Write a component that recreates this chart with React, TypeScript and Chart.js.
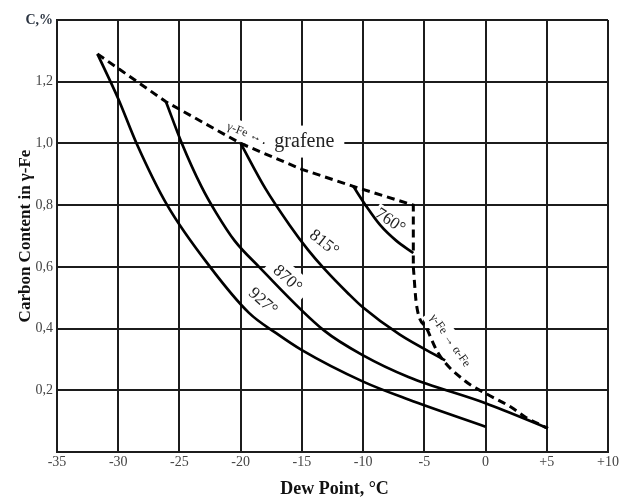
import React, { useEffect, useRef } from "react";
import { Chart, registerables } from "chart.js";

Chart.register(...registerables);

// ---- axis ticks ----
const xTickValues = [-35, -30, -25, -20, -15, -10, -5, 0, 5, 10];
const xTickLabels = ["-35", "-30", "-25", "-20", "-15", "-10", "-5", "0", "+5", "+10"];
const yTickValues = [0, 0.2, 0.4, 0.6, 0.8, 1.0, 1.2, 1.4];
const yTickLabels = ["", "0,2", "0,4", "0,6", "0,8", "1,0", "1,2", "C,%"];

// ---- series (dew point °C, carbon %) ----
const c927X = [-31.7, -30.0, -28.5, -26.0, -22.5, -19.3, -17.1, -15.0, -10.0, -6.3, 0.0];
const c927Y = [1.29, 1.145, 1.0, 0.8, 0.6, 0.45, 0.385, 0.33, 0.228, 0.17, 0.082];

const c870X = [-26.1, -24.8, -23.2, -22.0, -20.5, -18.5, -13.2, -10.0, -6.3, 0.0, 5.1];
const c870Y = [1.135, 1.0, 0.86, 0.775, 0.685, 0.6, 0.394, 0.313, 0.243, 0.158, 0.077];

const c815X = [-20.0, -18.0, -16.0, -14.5, -13.2, -11.2, -10.0, -7.0, -3.3];
const c815Y = [1.0, 0.855, 0.735, 0.655, 0.595, 0.513, 0.468, 0.38, 0.297];

const c760X = [-10.8, -9.8, -8.6, -7.3, -5.9];
const c760Y = [0.861, 0.8, 0.735, 0.685, 0.645];

const graphiteX = [-31.7, -26.1, -20.0, -15.0, -10.8, -5.9, -5.9];
const graphiteY = [1.29, 1.135, 1.0, 0.916, 0.861, 0.8, 0.6];

const alphaX = [-5.9, -5.65, -4.8, -3.86, -1.67, 0.0, 2.1, 3.3, 5.08];
const alphaY = [0.6, 0.48, 0.4, 0.32, 0.23, 0.19, 0.145, 0.112, 0.077];

// ---- in-plot labels (data coords) ----
const labelTexts = ["γ-Fe ↔", "grafene", "815°", "870°", "927°", "760°", "γ-Fe → α-Fe"];
const labelX = [-19.7, -14.8, -13.2, -16.2, -18.2, -7.8, -2.9];
const labelY = [1.035, 1.006, 0.677, 0.561, 0.487, 0.748, 0.361];
const labelAngle = [21, 0, 38, 42, 42, 34, 55];
const labelSize = [12, 20, 17, 17, 17, 17, 12];
const labelPadX = [3, 10, 2, 8, 2, 2, 4];
const labelPadY = [4, 6, 1, 5, 1, 1, 4];

const SERIF = "'Liberation Serif', 'Times New Roman', serif";
const INK = "#1c1c1c";

const toPts = (xs: number[], ys: number[]) => xs.map((x, i) => ({ x, y: ys[i] }));

const labelPlugin = {
  id: "inPlotLabels",
  beforeDatasetsDraw(chart: any) {
    const { ctx, scales } = chart;
    const xs = scales.x;
    const ys = scales.y;
    labelTexts.forEach((t, i) => {
      const cx = xs.getPixelForValue(labelX[i]);
      const cy = ys.getPixelForValue(labelY[i]);
      const size = labelSize[i];
      ctx.save();
      ctx.translate(cx, cy);
      ctx.rotate((labelAngle[i] * Math.PI) / 180);
      ctx.font = `${size}px ${SERIF}`;
      const w = ctx.measureText(t).width;
      const padX = labelPadX[i];
      const padY = labelPadY[i];
      ctx.fillStyle = "#ffffff";
      ctx.fillRect(-w / 2 - padX, -size / 2 - padY, w + padX * 2, size + padY * 2);
      ctx.fillStyle = "#222";
      ctx.textAlign = "center";
      ctx.textBaseline = "middle";
      ctx.fillText(t, 0, 0);
      ctx.restore();
    });
  },
  afterDraw(chart: any) {
    const { ctx, chartArea } = chart;
    ctx.save();
    ctx.fillStyle = "#111";
    ctx.font = `bold 18px ${SERIF}`;
    ctx.textAlign = "center";
    ctx.textBaseline = "middle";
    ctx.fillText("Dew Point, °C", (chartArea.left + chartArea.right) / 2 + 2, 489);
    ctx.translate(26, (chartArea.top + chartArea.bottom) / 2);
    ctx.rotate(-Math.PI / 2);
    ctx.font = `bold 17px ${SERIF}`;
    ctx.fillText("Carbon Content in γ-Fe", 0, 0);
    ctx.restore();
  },
};

export default function App() {
  const ref = useRef<HTMLCanvasElement | null>(null);

  useEffect(() => {
    if (!ref.current) return;
    const solid = (xs: number[], ys: number[]) => ({
      data: toPts(xs, ys),
      borderColor: "#000",
      borderWidth: 2.7,
      pointRadius: 0,
      fill: false,
      cubicInterpolationMode: "monotone",
    });
    const chart = new Chart(ref.current, {
      type: "line",
      data: {
        datasets: [
          solid(c927X, c927Y),
          solid(c870X, c870Y),
          solid(c815X, c815Y),
          solid(c760X, c760Y),
          {
            data: toPts(graphiteX, graphiteY),
            borderColor: "#000",
            borderWidth: 3,
            borderDash: [8, 5],
            pointRadius: 0,
            fill: false,
            tension: 0,
          },
          {
            data: toPts(alphaX, alphaY),
            borderColor: "#000",
            borderWidth: 3,
            borderDash: [8, 5],
            pointRadius: 0,
            fill: false,
            cubicInterpolationMode: "monotone",
          },
        ] as any,
      },
      options: {
        animation: false,
        responsive: true,
        maintainAspectRatio: false,
        layout: { padding: { top: 20, right: 16, left: 0, bottom: 0 } },
        plugins: { legend: { display: false }, tooltip: { enabled: false } },
        scales: {
          x: {
            type: "linear",
            min: -35,
            max: 10,
            afterBuildTicks: (s: any) => {
              s.ticks = xTickValues.map((v) => ({ value: v }));
            },
            afterFit: (s: any) => {
              s.height = 48;
            },
            ticks: {
              autoSkip: false,
              maxRotation: 0,
              padding: 2,
              color: "#444",
              font: { family: SERIF, size: 14 },
              callback: (_v: any, i: number) => xTickLabels[i],
            },
            grid: { color: INK, lineWidth: 2, drawTicks: false },
            border: { color: INK, width: 2 },
          },
          y: {
            type: "linear",
            min: 0,
            max: 1.4,
            afterBuildTicks: (s: any) => {
              s.ticks = yTickValues.map((v) => ({ value: v }));
            },
            afterFit: (s: any) => {
              s.width = 57;
            },
            ticks: {
              autoSkip: false,
              padding: 4,
              color: (c: any) => (c.index === yTickLabels.length - 1 ? "#2a3340" : "#444"),
              font: (c: any) =>
                c.index === yTickLabels.length - 1
                  ? { family: SERIF, size: 14, weight: "bold" }
                  : { family: SERIF, size: 14 },
              callback: (_v: any, i: number) => yTickLabels[i],
            },
            grid: { color: INK, lineWidth: 2, drawTicks: false },
            border: { color: INK, width: 2 },
          },
        },
      } as any,
      plugins: [labelPlugin],
    });
    return () => chart.destroy();
  }, []);

  return (
    <div style={{ position: "fixed", left: 0, top: 0, width: 624, height: 500, background: "#fff" }}>
      <canvas ref={ref} />
    </div>
  );
}
